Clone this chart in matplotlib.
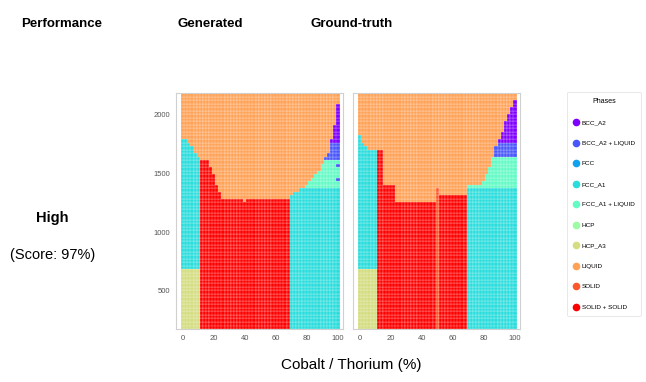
import matplotlib
matplotlib.use('Agg')

import numpy as np
import matplotlib.pyplot as plt
from matplotlib.lines import Line2D

plt.rcParams['font.family'] = ['Liberation Sans', 'DejaVu Sans']

phases = ["BCC_A2", "BCC_A2 + LIQUID", "FCC", "FCC_A1", "FCC_A1 + LIQUID",
          "HCP", "HCP_A3", "LIQUID", "SOLID", "SOLID + SOLID"]
colors = plt.cm.rainbow(np.linspace(0, 1, len(phases)))
phase_color = dict(zip(phases, colors))

# composition grid (%) and temperature grid
compositions = list(range(0, 101, 2))
temperatures = list(range(190, 2171, 30))

# liquidus read per composition column (0, 2, ..., 100)
gen_liquidus = [1800, 1790, 1770, 1730, 1680, 1630, 1610, 1610, 1600, 1560,
                1500, 1400, 1330, 1290, 1290, 1290, 1290, 1290, 1290, 1290,
                1260, 1290, 1290, 1290, 1290, 1290, 1290, 1290, 1290, 1290,
                1290, 1290, 1290, 1290, 1290, 1300, 1330, 1350, 1370, 1380,
                1400, 1420, 1450, 1490, 1530, 1570, 1630, 1680, 1780, 1910,
                2080]
gt_liquidus = [1815, 1760, 1720, 1700, 1700, 1700, 1700, 1700, 1400, 1400,
               1400, 1400, 1250, 1250, 1250, 1250, 1250, 1250, 1250, 1250,
               1250, 1250, 1250, 1250, 1250, 1380, 1300, 1300, 1300, 1300,
               1300, 1300, 1300, 1300, 1300, 1390, 1390, 1390, 1390, 1390,
               1420, 1480, 1560, 1650, 1720, 1790, 1860, 1930, 2000, 2070,
               2110]

# solid regions below the liquidus: (phase, x_min, x_max, T_min, T_max), painted in order
gen_regions = [
    ("FCC_A1", 0, 10, 690, 2200),
    ("HCP_A3", 0, 10, 0, 690),
    ("SOLID + SOLID", 12, 68, 0, 2200),
    ("FCC_A1", 70, 100, 0, 2200),
    ("FCC_A1 + LIQUID", 80, 100, 1390, 2200),
    ("BCC_A2 + LIQUID", 90, 100, 1620, 2200),
    ("BCC_A2", 96, 100, 1760, 2200),
]
gt_regions = [
    ("FCC_A1", 0, 10, 690, 2200),
    ("HCP_A3", 0, 10, 0, 690),
    ("SOLID + SOLID", 12, 68, 0, 2200),
    ("SOLID", 50, 50, 0, 2200),
    ("FCC_A1", 70, 100, 0, 1390),
    ("FCC_A1 + LIQUID", 70, 100, 1390, 2200),
    ("BCC_A2 + LIQUID", 86, 100, 1660, 2200),
    ("BCC_A2", 90, 100, 1770, 2200),
]
# stray predictions inside the FCC_A1 field of the generated map
gen_outliers = [("BCC_A2 + LIQUID", 100, 1570), ("BCC_A2 + LIQUID", 100, 1450)]


def phase_map(liquidus, regions, outliers=()):
    xs, ts, cs = [], [], []
    for i, x in enumerate(compositions):
        for t in temperatures:
            name = "LIQUID"
            if t <= liquidus[i]:
                for ph, x0, x1, t0, t1 in regions:
                    if x0 <= x <= x1 and t0 <= t < t1:
                        name = ph
            for ph, ox, ot in outliers:
                if ox == x and abs(ot - t) < 15:
                    name = ph
            xs.append(x)
            ts.append(t)
            cs.append(phase_color[name])
    return xs, ts, cs


fig = plt.figure(figsize=(6.46, 3.82), dpi=100)
ax1 = fig.add_axes([0.2724, 0.1387, 0.2585, 0.6178])
ax2 = fig.add_axes([0.5464, 0.1387, 0.2585, 0.6178])

for ax, liq, reg, outl in [(ax1, gen_liquidus, gen_regions, gen_outliers),
                           (ax2, gt_liquidus, gt_regions, [])]:
    xs, ts, cs = phase_map(liq, reg, outl)
    ax.scatter(xs, ts, c=cs, marker='s', s=6.5, edgecolors='white',
               linewidths=0.15)
    ax.set_xlim(-4.5, 103.3)
    ax.set_ylim(175, 2187)
    ax.set_xticks([0, 20, 40, 60, 80, 100])
    ax.set_yticks([500, 1000, 1500, 2000])
    ax.tick_params(length=0, labelsize=5.5, labelcolor='#555555', pad=4)
    for sp in ax.spines.values():
        sp.set_color('#d0d0d0')
        sp.set_linewidth(0.8)
ax2.set_yticklabels([])

fig.text(0.096, 0.937, "Performance", ha='center', va='center',
         fontsize=9.5, fontweight='bold')
fig.text(0.325, 0.937, "Generated", ha='center', va='center',
         fontsize=9.5, fontweight='bold')
fig.text(0.545, 0.937, "Ground-truth", ha='center', va='center',
         fontsize=9.5, fontweight='bold')
fig.text(0.081, 0.429, "High", ha='center', va='center',
         fontsize=10.5, fontweight='bold')
fig.text(0.081, 0.332, "(Score: 97%)", ha='center', va='center',
         fontsize=10.5)
fig.text(0.543, 0.045, "Cobalt / Thorium (%)", ha='center', va='center',
         fontsize=11)

handles = [Line2D([], [], marker='o', linestyle='none', markersize=5.5,
                  markerfacecolor=phase_color[p], markeredgecolor='none')
           for p in phases]
leg = fig.legend(handles, phases, title="Phases", loc='upper left',
                 bbox_to_anchor=(0.876, 0.762), fontsize=4.6, title_fontsize=5,
                 labelspacing=2.35, handletextpad=0.4, handlelength=1.0,
                 borderpad=0.9, borderaxespad=0.2, frameon=True)
leg.get_frame().set_edgecolor('#dddddd')
leg.get_frame().set_linewidth(0.6)

fig.savefig("out.png", dpi=100)
